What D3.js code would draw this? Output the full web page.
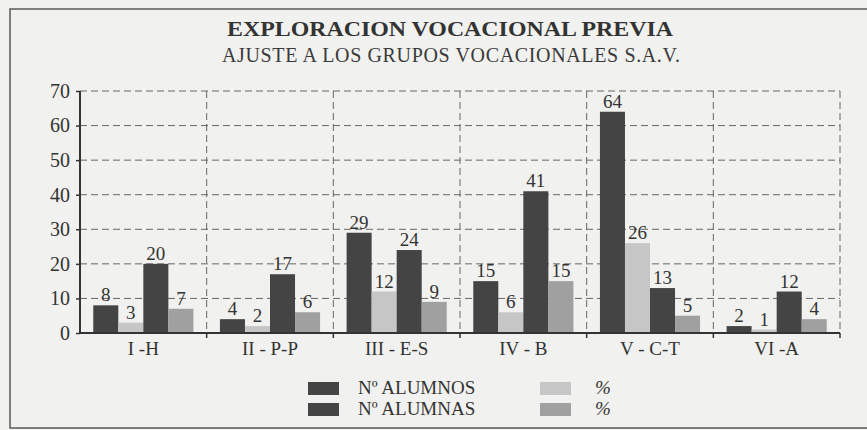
<!DOCTYPE html>
<html>
<head>
<meta charset="utf-8">
<script src="https://cdn.jsdelivr.net/npm/d3@7"></script>
<style>
  body { margin: 0; background: #f1f1ef; }
  svg { display: block; }
  svg text { font-family: "Liberation Serif", "Times New Roman", serif !important; }
</style>
</head>
<body>
<svg id="chart"></svg>
<script>
// data
const categories = ['I -H', 'II - P-P', 'III - E-S', 'IV - B', 'V - C-T', 'VI -A'];
const seriesNames = ['Nº ALUMNOS', '%', 'Nº ALUMNAS', '%'];
const alumnos = [8, 4, 29, 15, 64, 2];
const alumnosPct = [3, 2, 12, 6, 26, 1];
const alumnas = [20, 17, 24, 41, 13, 12];
const alumnasPct = [7, 6, 9, 15, 5, 4];
const yTicks = [0, 10, 20, 30, 40, 50, 60, 70];

const seriesValues = [alumnos, alumnosPct, alumnas, alumnasPct];
const colors = ['#444444', '#c6c6c6', '#444444', '#a0a0a0'];

const width = 867, height = 430;
const margin = {top: 91, right: 27, bottom: 97, left: 80};
const innerW = width - margin.left - margin.right;
const innerH = height - margin.top - margin.bottom;

const svg = d3.select('#chart').attr('width', width).attr('height', height);

// frame (right edge is cut off in the scan)
svg.append('path')
  .attr('d', `M${width},9 H10 V428 H${width}`)
  .attr('fill', 'none')
  .attr('stroke', '#5a5a5a')
  .attr('stroke-width', 1.5);

svg.append('text')
  .attr('x', 450).attr('y', 36)
  .attr('text-anchor', 'middle')
  .attr('font-size', 21).attr('font-weight', 'bold')
  .attr('fill', '#333')
  .attr('textLength', 446).attr('lengthAdjust', 'spacingAndGlyphs')
  .text('EXPLORACION VOCACIONAL PREVIA');

svg.append('text')
  .attr('x', 451).attr('y', 62)
  .attr('text-anchor', 'middle')
  .attr('font-size', 20)
  .attr('fill', '#3a3a3a')
  .attr('textLength', 458).attr('lengthAdjust', 'spacing')
  .text('AJUSTE A LOS GRUPOS VOCACIONALES S.A.V.');

const g = svg.append('g')
  .attr('transform', `translate(${margin.left}, ${margin.top})`);

const x0 = d3.scaleBand()
  .domain(categories)
  .range([0, innerW])
  .padding(0);

const x1 = d3.scaleBand()
  .domain(d3.range(seriesValues.length))
  .range([0, x0.bandwidth()])
  .paddingInner(0)
  .paddingOuter(0.53);

const y = d3.scaleLinear()
  .domain([0, 70])
  .range([innerH, 0]);

// horizontal dashed grid
g.selectAll('line.hgrid')
  .data(yTicks.filter(d => d > 0)).enter()
  .append('line')
  .attr('class', 'hgrid')
  .attr('x1', 0).attr('x2', innerW)
  .attr('y1', d => y(d)).attr('y2', d => y(d))
  .attr('stroke', '#666')
  .attr('stroke-dasharray', '7,4');

// vertical dashed dividers at category edges
const edges = categories.map(c => x0(c) + x0.bandwidth());
g.selectAll('line.vgrid')
  .data(edges).enter()
  .append('line')
  .attr('class', 'vgrid')
  .attr('x1', d => d).attr('x2', d => d)
  .attr('y1', y(70)).attr('y2', y(0))
  .attr('stroke', '#666')
  .attr('stroke-dasharray', '7,4');

// y axis
const yAxis = d3.axisLeft(y)
  .tickValues(yTicks)
  .tickSize(4)
  .tickPadding(6);
const yAxisG = g.append('g').call(yAxis);
yAxisG.select('.domain').remove();
yAxisG.selectAll('line').attr('stroke', '#333').attr('stroke-width', 1.5);
yAxisG.selectAll('text')
  .attr('font-size', 20)
  .attr('fill', '#333');
g.append('line')
  .attr('x1', 0).attr('x2', 0)
  .attr('y1', y(70)).attr('y2', y(0))
  .attr('stroke', '#333').attr('stroke-width', 2);

// bars
const groups = g.selectAll('g.cat')
  .data(categories).enter()
  .append('g')
  .attr('class', 'cat')
  .attr('transform', c => `translate(${x0(c)},0)`);

groups.selectAll('rect')
  .data((c, i) => seriesValues.map((s, k) => ({k, v: s[i]}))).enter()
  .append('rect')
  .attr('x', d => x1(d.k))
  .attr('width', x1.bandwidth())
  .attr('y', d => y(d.v))
  .attr('height', d => y(0) - y(d.v))
  .attr('fill', d => colors[d.k]);

groups.selectAll('text')
  .data((c, i) => seriesValues.map((s, k) => ({k, v: s[i]}))).enter()
  .append('text')
  .attr('x', d => x1(d.k) + x1.bandwidth() / 2)
  .attr('y', d => y(d.v) - 4)
  .attr('text-anchor', 'middle')
  .attr('font-size', 19)
  .attr('fill', '#333')
  .text(d => d.v);

// x axis
const xAxis = d3.axisBottom(x0).tickSize(0).tickPadding(9);
const xAxisG = g.append('g')
  .attr('transform', `translate(0, ${innerH})`)
  .call(xAxis);
xAxisG.select('.domain').remove();
xAxisG.selectAll('text')
  .attr('font-size', 19)
  .attr('fill', '#333');
g.append('line')
  .attr('x1', 0).attr('x2', innerW)
  .attr('y1', y(0)).attr('y2', y(0))
  .attr('stroke', '#333').attr('stroke-width', 2);
g.selectAll('line.xtick')
  .data(edges).enter()
  .append('line')
  .attr('class', 'xtick')
  .attr('x1', d => d).attr('x2', d => d)
  .attr('y1', y(0)).attr('y2', y(0) + 5)
  .attr('stroke', '#333').attr('stroke-width', 1.5);

// legend
const legendPos = [[308, 382], [540, 382], [308, 403], [540, 403]];
const legend = svg.selectAll('g.legend')
  .data(seriesNames).enter()
  .append('g')
  .attr('class', 'legend')
  .attr('transform', (d, i) => `translate(${legendPos[i][0]},${legendPos[i][1]})`);
legend.append('rect')
  .attr('width', 31).attr('height', 13)
  .attr('fill', (d, i) => colors[i]);
legend.append('text')
  .attr('x', (d, i) => i % 2 === 0 ? 50 : 55)
  .attr('y', 12)
  .attr('font-size', 19)
  .attr('font-style', (d, i) => i % 2 === 0 ? 'normal' : 'italic')
  .attr('fill', '#333')
  .text(d => d);
</script>
</body>
</html>
